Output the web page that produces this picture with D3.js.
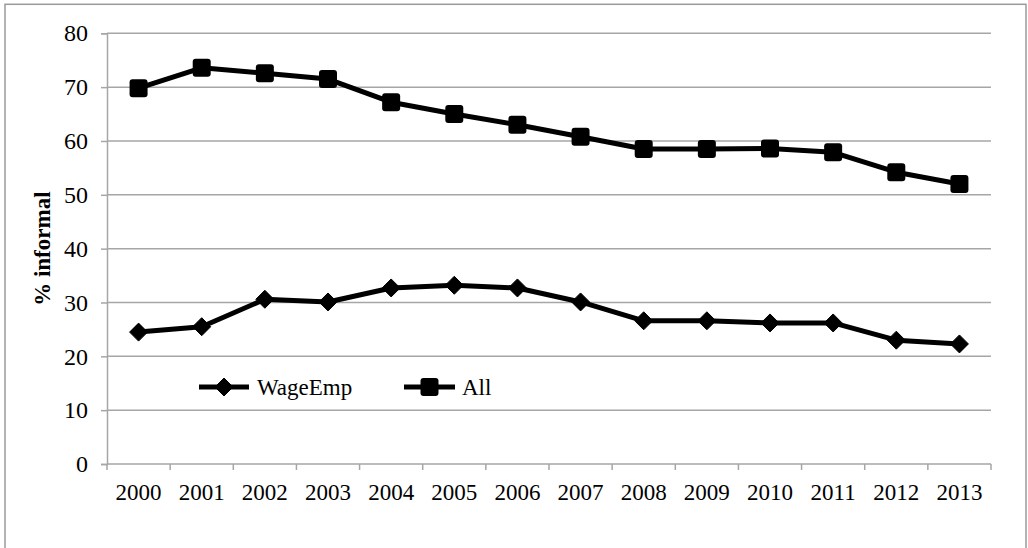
<!DOCTYPE html>
<html>
<head>
<meta charset="utf-8">
<script src="https://cdn.jsdelivr.net/npm/d3@7/dist/d3.min.js"></script>
<style>
  html, body { margin: 0; padding: 0; background: #fff; }
  svg { display: block; }
  svg text { font-family: "Liberation Serif", "Times New Roman", serif; }
</style>
</head>
<body>
<svg id="chart" width="1028" height="548"></svg>
<script>
// Share of informal employment, by year
const years = ["2000","2001","2002","2003","2004","2005","2006","2007","2008","2009","2010","2011","2012","2013"];
const wageEmp = [24.5, 25.5, 30.6, 30.1, 32.7, 33.2, 32.7, 30.1, 26.6, 26.6, 26.2, 26.2, 23.0, 22.3];
const allEmp  = [69.8, 73.6, 72.6, 71.5, 67.2, 65.0, 63.0, 60.8, 58.5, 58.5, 58.6, 57.9, 54.2, 52.0];
const yTicks  = [0, 10, 20, 30, 40, 50, 60, 70, 80];
const seriesNames = ["WageEmp", "All"];

const FONT = "'Liberation Serif', 'Times New Roman', serif";
const svg = d3.select("#chart");
const margin = { left: 107, right: 1028 - 991, top: 33.3, bottom: 548 - 464 };
const W = 1028, H = 548;

// outer chart frame (bottom edge runs past the window)
svg.append("rect")
  .attr("x", 5).attr("y", 4.3)
  .attr("width", 1021).attr("height", 600)
  .attr("fill", "none").attr("stroke", "#9a9a9a").attr("stroke-width", 1.5);

const x = d3.scaleBand().domain(years).range([margin.left, W - margin.right]).padding(0);
const y = d3.scaleLinear().domain([0, 80]).range([H - margin.bottom, margin.top]);

const gridColor = "#a6a6a6";

// value axis with short ticks to the left of the axis line
const yAxis = d3.axisLeft(y).tickValues(yTicks).tickSize(6).tickPadding(13);
const gy = svg.append("g").attr("transform", `translate(${margin.left},0)`).call(yAxis)
  .attr("font-family", FONT);
gy.select(".domain").attr("stroke", gridColor).attr("stroke-width", 1.5);
gy.selectAll(".tick line").attr("stroke", gridColor).attr("stroke-width", 1.5);
gy.selectAll(".tick text").attr("font-size", 24).attr("fill", "#000")
  .attr("font-family", FONT);

// horizontal gridlines
svg.append("g").selectAll("line.grid")
  .data(yTicks.filter(d => d > 0))
  .join("line")
  .attr("x1", margin.left).attr("x2", W - margin.right)
  .attr("y1", d => y(d)).attr("y2", d => y(d))
  .attr("stroke", gridColor).attr("stroke-width", 1.5);

// category axis: ticks sit on band boundaries
const gx = svg.append("g").attr("transform", `translate(0,${y(0)})`);
gx.append("line")
  .attr("x1", margin.left).attr("x2", W - margin.right)
  .attr("y1", 0).attr("y2", 0)
  .attr("stroke", gridColor).attr("stroke-width", 1.5);
const edges = years.map(d => x(d)).concat([x(years[years.length - 1]) + x.bandwidth()]);
gx.selectAll("line.tick").data(edges).join("line")
  .attr("x1", d => d).attr("x2", d => d)
  .attr("y1", 0).attr("y2", 6)
  .attr("stroke", gridColor).attr("stroke-width", 1.5);
gx.selectAll("text").data(years).join("text")
  .attr("x", d => x(d) + x.bandwidth() / 2)
  .attr("y", 36)
  .attr("text-anchor", "middle")
  .attr("font-family", FONT)
  .attr("font-size", 23)
  .attr("fill", "#000")
  .text(d => d);

// axis title
svg.append("text")
  .attr("transform", `translate(50,${(y(0) + y(80)) / 2}) rotate(-90)`)
  .attr("text-anchor", "middle")
  .attr("font-family", FONT)
  .attr("font-size", 23)
  .attr("font-weight", "bold")
  .text("% informal");

const cx = (d, i) => x(years[i]) + x.bandwidth() / 2;
const line = d3.line().x((d, i) => cx(d, i)).y(d => y(d));

const sq = 18, dm = 9;
const diamondPath = (px, py) => `M${px},${py - dm}L${px + dm},${py}L${px},${py + dm}L${px - dm},${py}Z`;

function drawSeries(vals, kind) {
  const g = svg.append("g");
  g.append("path").datum(vals)
    .attr("d", line).attr("fill", "none")
    .attr("stroke", "#000").attr("stroke-width", 5).attr("stroke-linejoin", "round");
  if (kind === "square") {
    g.selectAll("rect").data(vals).join("rect")
      .attr("x", (d, i) => cx(d, i) - sq / 2).attr("y", d => y(d) - sq / 2)
      .attr("width", sq).attr("height", sq).attr("rx", 3)
      .attr("fill", "#000");
  } else {
    g.selectAll("path.m").data(vals).join("path")
      .attr("class", "m")
      .attr("d", (d, i) => diamondPath(cx(d, i), y(d)))
      .attr("fill", "#000").attr("stroke", "#000").attr("stroke-width", 1).attr("stroke-linejoin", "round");
  }
}
drawSeries(wageEmp, "diamond");
drawSeries(allEmp, "square");

// legend
const legendY = 387;
const legendItems = [
  { name: seriesNames[0], kind: "diamond", x0: 199, x1: 249, tx: 257 },
  { name: seriesNames[1], kind: "square", x0: 404, x1: 455, tx: 462 }
];
legendItems.forEach(it => {
  svg.append("line").attr("x1", it.x0).attr("x2", it.x1)
    .attr("y1", legendY).attr("y2", legendY)
    .attr("stroke", "#000").attr("stroke-width", 5);
  const mx = (it.x0 + it.x1) / 2;
  if (it.kind === "square") {
    svg.append("rect").attr("x", mx - sq / 2).attr("y", legendY - sq / 2)
      .attr("width", sq).attr("height", sq).attr("rx", 3).attr("fill", "#000");
  } else {
    svg.append("path").attr("d", diamondPath(mx, legendY)).attr("fill", "#000")
      .attr("stroke", "#000").attr("stroke-width", 1).attr("stroke-linejoin", "round");
  }
  svg.append("text").attr("x", it.tx).attr("y", legendY + 8)
    .attr("font-family", FONT)
    .attr("font-size", 23).attr("fill", "#000").text(it.name);
});
</script>
</body>
</html>
